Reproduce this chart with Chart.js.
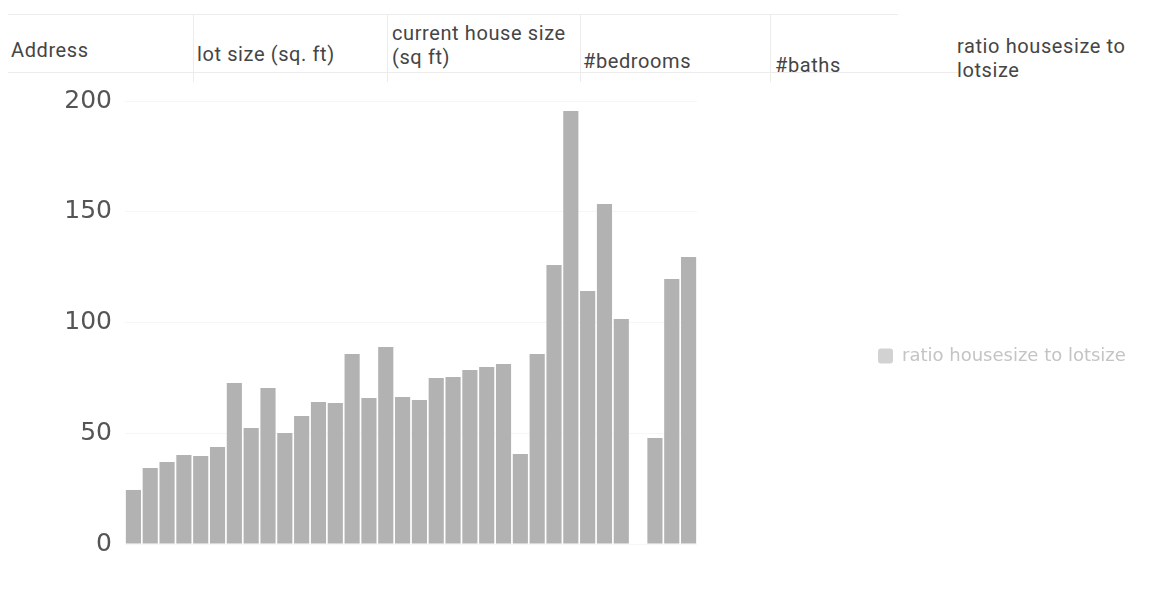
<!DOCTYPE html>
<html>
<head>
<meta charset="utf-8">
<title>ratio housesize to lotsize</title>
<script src="https://cdn.jsdelivr.net/npm/chart.js@4.4.1/dist/chart.umd.min.js"></script>
<style>
  html, body { margin: 0; padding: 0; background: #fff; overflow: hidden; width: 1152px; height: 602px; }
  #sheet { position: absolute; left: 0; top: 0; width: 1152px; height: 100px;
           font-family: Roboto, "Liberation Sans", sans-serif; font-size: 20px; color: #454545;
           letter-spacing: 0.6px; }
  .cell { position: absolute; white-space: nowrap; line-height: 24px; }
  .rule { position: absolute; background: #ececec; }
  #wrap { position: absolute; left: 0; top: 0; width: 1152px; height: 611px; }
</style>
</head>
<body>
<div id="sheet"></div>
<div id="wrap"><canvas id="chart"></canvas></div>
<script>
// Spreadsheet header row above the chart
const headerTexts = ['Address', 'lot size (sq. ft)', 'current house size\n(sq ft)', '#bedrooms', '#baths', 'ratio housesize to\nlotsize'];
const headerLeft = [11, 197, 392, 583, 775, 957];
const headerTop = [38, 42, 21, 49, 53, 34];

// One bar per house row; the empty slot is a row without a value
const houses = [
  'House 1', 'House 2', 'House 3', 'House 4', 'House 5', 'House 6', 'House 7', 'House 8', 'House 9', 'House 10',
  'House 11', 'House 12', 'House 13', 'House 14', 'House 15', 'House 16', 'House 17', 'House 18', 'House 19', 'House 20',
  'House 21', 'House 22', 'House 23', 'House 24', 'House 25', 'House 26', 'House 27', 'House 28', 'House 29', 'House 30',
  'House 31', 'House 32', 'House 33', 'House 34'
];
const ratioValues = [
  24.4, 34.3, 37, 40.2, 39.7, 43.8, 72.7, 52.4, 70.4, 50.1,
  57.8, 64.1, 63.7, 85.8, 65.9, 88.9, 66.4, 65, 75, 75.4,
  78.6, 79.9, 81.3, 40.6, 85.8, 126, 195.5, 114.2, 153.5, 101.6,
  null, 47.9, 119.6, 129.6
];
const yTicks = [0, 50, 100, 150, 200];
const seriesName = 'ratio housesize to lotsize';

// header cells and faint cell borders
const sheet = document.getElementById('sheet');
headerTexts.forEach((t, i) => {
  const d = document.createElement('div');
  d.className = 'cell';
  d.style.left = headerLeft[i] + 'px';
  d.style.top = headerTop[i] + 'px';
  d.innerHTML = t.split('\n').join('<br>');
  sheet.appendChild(d);
});
function rule(x, y, w, h) {
  const r = document.createElement('div');
  r.className = 'rule';
  Object.assign(r.style, { left: x + 'px', top: y + 'px', width: w + 'px', height: h + 'px' });
  sheet.appendChild(r);
}
rule(8, 14, 890, 1);
rule(8, 72, 950, 1);
[193, 387, 580, 770].forEach(x => rule(x, 14, 1, 68));

const ctx = document.getElementById('chart');
new Chart(ctx, {
  type: 'bar',
  data: {
    labels: houses,
    datasets: [{
      label: seriesName,
      data: ratioValues,
      backgroundColor: '#b2b2b2',
      borderWidth: 0,
      barPercentage: 0.9,
      categoryPercentage: 1.0
    }]
  },
  options: {
    responsive: true,
    maintainAspectRatio: false,
    animation: false,
    layout: { padding: { top: 101, left: 0, right: 25, bottom: 0 } },
    plugins: {
      tooltip: { enabled: false },
      legend: {
        position: 'right',
        align: 'center',
        maxWidth: 430,
        labels: {
          padding: 181,
          boxWidth: 15,
          boxHeight: 15,
          useBorderRadius: true,
          borderRadius: 3,
          color: '#c4c4c4',
          font: { family: '"DejaVu Sans", sans-serif', size: 18 },
          generateLabels(chart) {
            const items = Chart.defaults.plugins.legend.labels.generateLabels(chart);
            items.forEach(it => { it.fillStyle = '#d2d2d2'; it.strokeStyle = '#d2d2d2'; it.lineWidth = 0; });
            return items;
          }
        }
      }
    },
    scales: {
      x: {
        grid: { display: false },
        border: { display: false },
        ticks: { display: false },
        afterFit(scale) { scale.height = 67; }
      },
      y: {
        min: 0,
        max: 200,
        afterBuildTicks(scale) { scale.ticks = yTicks.map(v => ({ value: v })); },
        ticks: {
          padding: 13,
          color: '#555',
          font: { family: '"DejaVu Sans", sans-serif', size: 25 }
        },
        grid: { color: 'rgba(0,0,0,0.035)', drawTicks: false },
        border: { display: false },
        afterFit(scale) { scale.width = 125; }
      }
    }
  }
});
</script>
</body>
</html>
